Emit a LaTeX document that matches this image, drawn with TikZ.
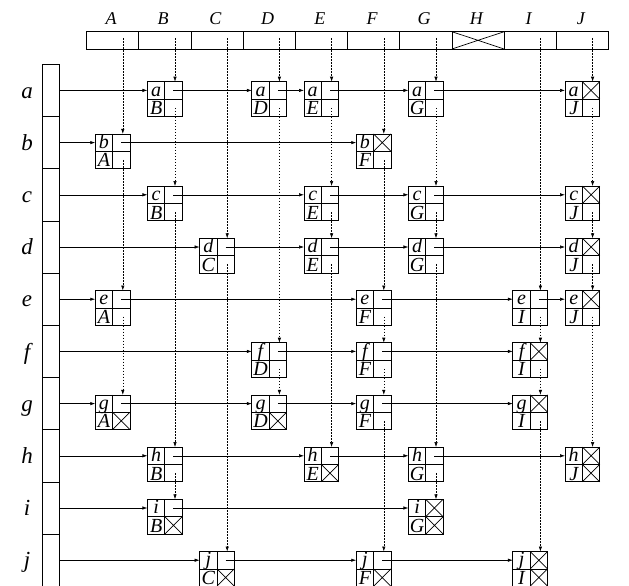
\documentclass[tikz,border=0pt]{standalone}
\usepackage{fontspec}
\setmainfont{Liberation Serif}
\usetikzlibrary{arrows.meta}
\tikzset{
  olbox/.style={draw, line width=0.8pt, minimum width=34.7pt, minimum height=34.7pt, inner sep=0pt, outer sep=0pt},
  cellline/.style={line width=0.7pt},
  hcell/.style={draw, line width=0.8pt, minimum width=52.2pt, minimum height=17.3pt, inner sep=0pt, outer sep=0pt},
  rcell/.style={draw, line width=0.8pt, minimum width=17.7pt, minimum height=52.2pt, inner sep=0pt, outer sep=0pt},
  harr/.style={line width=0.6pt, -{Latex[length=5pt,width=3.4pt]}},
  varr/.style={line width=0.6pt, dash pattern=on 1.6pt off 1.4pt, -{Latex[length=5pt,width=3.4pt]}},
  nlbl/.style={font=\fontsize{20}{20}\selectfont\itshape, inner sep=0pt, anchor=base},
  toplbl/.style={font=\fontsize{18}{18}\selectfont\itshape, inner sep=0pt, anchor=base},
  rowlbl/.style={font=\fontsize{23}{23}\selectfont\itshape, inner sep=0pt, anchor=base},
}
\newcommand\olnode[6]{%
  \pgfmathsetmacro\cx{112.6+52.2*#3}%
  \pgfmathsetmacro\ry{90.4+52.2*#4}%
  \node[olbox] (#1#2) at (\cx,\ry+8.675) {};
  \draw[cellline] (#1#2.north) -- (#1#2.south) (#1#2.west) -- (#1#2.east);
  \node[nlbl] at (\cx-8.675,\ry+5.6) {#1};
  \node[nlbl] at (\cx-8.675,\ry+24.2) {#2};
  \coordinate (#1#2-in) at (\cx-17.35,\ry);
  \coordinate (#1#2-r) at (\cx+8.675,\ry);
  \coordinate (#1#2-top) at (\cx+10.2,\ry-8.675);
  \coordinate (#1#2-d) at (\cx+10.2,\ry+17.35);
  \ifnum#5=1\relax
    \draw[cellline] (#1#2.north) -- (#1#2.east) (#1#2.center) -- (#1#2.north east);
  \fi
  \ifnum#6=1\relax
    \draw[cellline] (#1#2.center) -- (#1#2.south east) (#1#2.east) -- (#1#2.south);
  \fi
}
\begin{document}
\begin{tikzpicture}[x=1pt,y=-1pt]
\useasboundingbox (0,0) rectangle (629,586);
\clip (0,0) rectangle (629,586);
% column header bar
\foreach \L [count=\i from 0] in {A,B,C,D,E,F,G,H,I,J} {
  \node[hcell] (col\L) at ({112.6+52.2*\i},40.35) {};
  \node[toplbl] at ({111+52.2*\i},24.5) {\L};
  \coordinate (col\L-s) at ({122.8+52.2*\i},38);
}
\draw[cellline] (colH.north west) -- (colH.south east) (colH.south west) -- (colH.north east);
% row header bar
\foreach \l [count=\i from 0] in {a,b,c,d,e,f,g,h,i,j} {
  \node[rcell] (row\l) at (50.85,{90.4+52.2*\i}) {};
  \node[rowlbl] at (27,{98+52.2*\i}) {\l};
}
% element nodes: row, col, col idx, row idx, right-null, down-null
\olnode{a}{B}{1}{0}{0}{0}
\olnode{a}{D}{3}{0}{0}{0}
\olnode{a}{E}{4}{0}{0}{0}
\olnode{a}{G}{6}{0}{0}{0}
\olnode{a}{J}{9}{0}{1}{0}
\olnode{b}{A}{0}{1}{0}{0}
\olnode{b}{F}{5}{1}{1}{0}
\olnode{c}{B}{1}{2}{0}{0}
\olnode{c}{E}{4}{2}{0}{0}
\olnode{c}{G}{6}{2}{0}{0}
\olnode{c}{J}{9}{2}{1}{0}
\olnode{d}{C}{2}{3}{0}{0}
\olnode{d}{E}{4}{3}{0}{0}
\olnode{d}{G}{6}{3}{0}{0}
\olnode{d}{J}{9}{3}{1}{0}
\olnode{e}{A}{0}{4}{0}{0}
\olnode{e}{F}{5}{4}{0}{0}
\olnode{e}{I}{8}{4}{0}{0}
\olnode{e}{J}{9}{4}{1}{0}
\olnode{f}{D}{3}{5}{0}{0}
\olnode{f}{F}{5}{5}{0}{0}
\olnode{f}{I}{8}{5}{1}{0}
\olnode{g}{A}{0}{6}{0}{1}
\olnode{g}{D}{3}{6}{0}{1}
\olnode{g}{F}{5}{6}{0}{0}
\olnode{g}{I}{8}{6}{1}{0}
\olnode{h}{B}{1}{7}{0}{0}
\olnode{h}{E}{4}{7}{0}{1}
\olnode{h}{G}{6}{7}{0}{0}
\olnode{h}{J}{9}{7}{1}{1}
\olnode{i}{B}{1}{8}{0}{1}
\olnode{i}{G}{6}{8}{1}{1}
\olnode{j}{C}{2}{9}{0}{1}
\olnode{j}{F}{5}{9}{0}{1}
\olnode{j}{I}{8}{9}{1}{1}
% row links
\foreach \s/\t in {rowa.east/aB-in, aB-r/aD-in, aD-r/aE-in, aE-r/aG-in, aG-r/aJ-in,
  rowb.east/bA-in, bA-r/bF-in,
  rowc.east/cB-in, cB-r/cE-in, cE-r/cG-in, cG-r/cJ-in,
  rowd.east/dC-in, dC-r/dE-in, dE-r/dG-in, dG-r/dJ-in,
  rowe.east/eA-in, eA-r/eF-in, eF-r/eI-in, eI-r/eJ-in,
  rowf.east/fD-in, fD-r/fF-in, fF-r/fI-in,
  rowg.east/gA-in, gA-r/gD-in, gD-r/gF-in, gF-r/gI-in,
  rowh.east/hB-in, hB-r/hE-in, hE-r/hG-in, hG-r/hJ-in,
  rowi.east/iB-in, iB-r/iG-in,
  rowj.east/jC-in, jC-r/jF-in, jF-r/jI-in}
  \draw[harr] (\s) -- (\t);
% column links
\foreach \s/\t in {colA-s/bA-top, bA-d/eA-top, eA-d/gA-top,
  colB-s/aB-top, aB-d/cB-top, cB-d/hB-top, hB-d/iB-top,
  colC-s/dC-top, dC-d/jC-top,
  colD-s/aD-top, aD-d/fD-top, fD-d/gD-top,
  colE-s/aE-top, aE-d/cE-top, cE-d/dE-top, dE-d/hE-top,
  colF-s/bF-top, bF-d/eF-top, eF-d/fF-top, fF-d/gF-top, gF-d/jF-top,
  colG-s/aG-top, aG-d/cG-top, cG-d/dG-top, dG-d/hG-top, hG-d/iG-top,
  colI-s/eI-top, eI-d/fI-top, fI-d/gI-top, gI-d/jI-top,
  colJ-s/aJ-top, aJ-d/cJ-top, cJ-d/dJ-top, dJ-d/eJ-top, eJ-d/hJ-top}
  \draw[varr] (\s) -- (\t);
\end{tikzpicture}
\end{document}
